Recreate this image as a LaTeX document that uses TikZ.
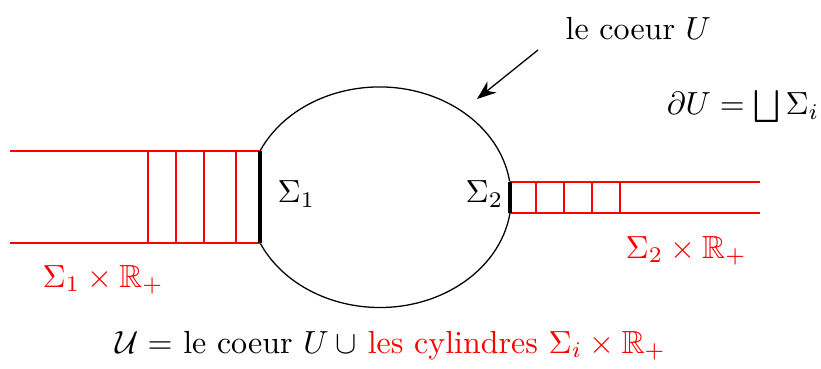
\documentclass[tikz,border=0pt]{standalone}
\usepackage{amssymb}
\usetikzlibrary{arrows.meta}
\begin{document}
\begin{tikzpicture}[x=0.3125pt,y=0.3125pt,
  cyl/.style={red,line width=0.6pt},
  bdry/.style={black,line width=1.1pt},
  core/.style={black,line width=0.4pt},
  lbl/.style={inner sep=0pt,anchor=base west}]
\useasboundingbox (0,0) rectangle (821,368);
% junction coordinates
\coordinate (LT) at (260,217);
\coordinate (LB) at (260,125);
\coordinate (RT) at (510,186);
\coordinate (RB) at (510,155);
% core
\draw[core] (LT) arc[start angle=155.3,end angle=8.1,x radius=41.09pt,y radius=34.375pt];
\draw[core] (RB) arc[start angle=-8.1,end angle=-155.3,x radius=41.09pt,y radius=34.375pt];
% left cylinder
\coordinate (L0T) at (10,217);
\coordinate (L0B) at (10,125);
\draw[cyl] (L0T) -- (LT);
\draw[cyl] (L0B) -- (LB);
\foreach \x in {148,176,204,236} \draw[cyl] (\x,217) -- (\x,125);
% right cylinder
\coordinate (R0T) at (760,186);
\coordinate (R0B) at (760,155);
\draw[cyl] (RT) -- (R0T);
\draw[cyl] (RB) -- (R0B);
\foreach \x in {536,564,592,620} \draw[cyl] (\x,186) -- (\x,155);
% boundaries
\draw[bdry] (LT) -- (LB);
\draw[bdry] (RT) -- (RB);
% labels
\node[lbl] (s1) at (277,165) {$\Sigma_1$};
\node[lbl] (s2) at (465,165) {$\Sigma_2$};
\node[lbl,red] (c1) at (42,81) {$\Sigma_1\times\mathbb{R}_+$};
\node[lbl,red] (c2) at (625,110) {$\Sigma_2\times\mathbb{R}_+$};
\node[lbl] (coeur) at (565,328) {le coeur $U$};
\node[inner sep=0pt,anchor=base east] (bd) at (820,253) {$\partial U=\bigsqcup\Sigma_i$};
\node[lbl] (def) at (115,15) {$\mathcal{U}=$ le coeur $U\mskip\medmuskip\cup$ \textcolor{red}{les cylindres $\Sigma_i\times\mathbb{R}_+$}};
% arrow
\coordinate (A0) at (538,318);
\coordinate (A1) at (477,269);
\draw[core,-{Stealth[length=6pt,width=4.5pt]}] (A0) -- (A1);
\end{tikzpicture}
\end{document}
